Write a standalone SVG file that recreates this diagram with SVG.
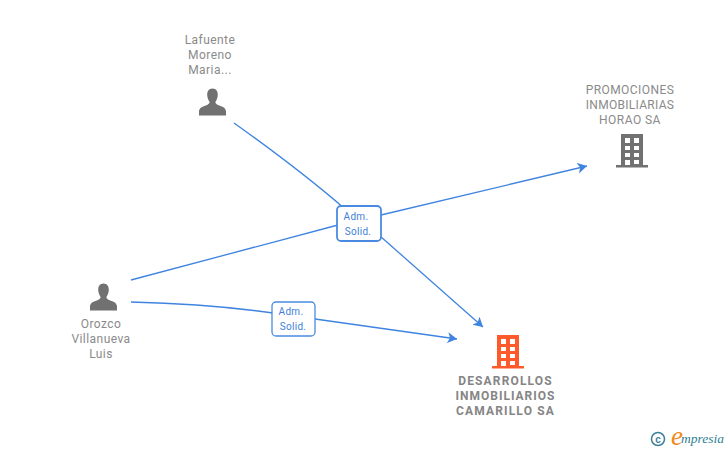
<svg xmlns="http://www.w3.org/2000/svg" width="728" height="450" viewBox="0 0 728 450">
<style>
.lbl{font-family:Roboto,"Liberation Sans",sans-serif;font-size:12px;fill:#8a8a8a;text-anchor:middle;letter-spacing:.45px}
.co{font-weight:700;letter-spacing:1.15px;fill:#858585}
.edge{fill:none;stroke:#3f84e0;stroke-width:1.3}
.box{fill:#fff;stroke:#4a8ae2;stroke-width:1.3}
.tag{font-family:Roboto,"Liberation Sans",sans-serif;font-size:10px;fill:#3f7fd8;text-anchor:middle;letter-spacing:.3px}
</style>
<defs>
<marker id="arr" markerUnits="userSpaceOnUse" markerWidth="12" markerHeight="12" refX="9.500" refY="5.500" orient="auto"><path d="M0 0L9.500 5.500L0 11L2.500 5.500Z" fill="#3f84e0"/></marker>
<symbol id="person" viewBox="0 0 28 28" overflow="visible"><path d="M14 0C10.300 0 8.500 3 8.500 6.500C8.500 10 10 12.500 11 14C11 15.500 10 16.500 7 17.500C3 18.800 .5 20 0 23.500L0 28L28 28L28 23.500C27.500 20 25 18.800 21 17.500C18 16.500 17 15.500 17 14C18 12.500 19.500 10 19.500 6.500C19.500 3 17.700 0 14 0Z"/></symbol>
<symbol id="bld" viewBox="0 0 32 34" overflow="visible"><path fill-rule="evenodd" d="M5 0H27V31H32V33.500H0V31H5ZM9 4V9H14V4ZM18 4V9H23V4ZM9 12V16H14V12ZM18 12V16H23V12ZM9 19V23H14V19ZM18 19V23H23V19ZM9 26V31H14V26ZM18 26V30H23V26Z"/></symbol>
</defs>
<g id="connectors">
<path class="edge" d="M234 123Q300 170 345 209"/>
<path class="edge" marker-end="url(#arr)" d="M380 236L483 327"/>
<path class="edge" d="M131 280L338 225"/>
<path class="edge" marker-end="url(#arr)" d="M381 215L587 166"/>
<path class="edge" d="M131 302Q210 304 273 313"/>
<path class="edge" marker-end="url(#arr)" d="M315 319L457 339"/>
</g>
<g id="label-1"><rect class="box" x="337" y="206" width="44" height="35" rx="4" style="stroke-width:1.800px"/><text class="tag" x="356" y="220">Adm.</text><text class="tag" x="358" y="235">Solid.</text></g>
<g id="label-2"><rect class="box" x="272" y="302" width="43" height="34" rx="4"/><text class="tag" x="291" y="315">Adm.</text><text class="tag" x="293" y="330">Solid.</text></g>
<g id="node-lafuente"><text class="lbl" x="210" y="44">Lafuente</text><text class="lbl" x="210" y="59">Moreno</text><text class="lbl" x="210" y="74">Maria...</text><use href="#person" x="199" y="88" width="27" height="28" fill="#717171"/></g>
<g id="node-orozco"><use href="#person" x="90" y="283" width="27" height="28" fill="#717171"/><text class="lbl" x="101" y="328">Orozco</text><text class="lbl" x="101" y="343">Villanueva</text><text class="lbl" x="101" y="358">Luis</text></g>
<g id="node-promociones"><text class="lbl" x="630" y="94">PROMOCIONES</text><text class="lbl" x="630" y="109" style="letter-spacing:.3px">INMOBILIARIAS</text><text class="lbl" x="630" y="124">HORAO SA</text><use href="#bld" x="616" y="134" width="32" height="34" fill="#717171"/></g>
<g id="node-desarrollos"><use href="#bld" x="492" y="335" width="32" height="34" fill="#ff5a2b"/><text class="lbl co" x="505.500" y="385">DESARROLLOS</text><text class="lbl co" x="505.500" y="400" style="letter-spacing:1px">INMOBILIARIOS</text><text class="lbl co" x="505.500" y="415">CAMARILLO SA</text></g>
<g id="logo"><circle cx="658" cy="439" r="6.500" fill="none" stroke="#3d7f96" stroke-width="1.500"/><text x="658" y="442.500" font-family="Liberation Sans,sans-serif" font-size="10" font-weight="700" fill="#3d7f96" text-anchor="middle">c</text><text x="671" y="445" font-family="Liberation Serif,serif" font-size="27" font-style="italic" fill="#f08a1d">e</text><text x="681" y="443" font-family="Liberation Serif,serif" font-size="13.500" font-style="italic" fill="#2f7f95">mpresia</text></g>
</svg>
